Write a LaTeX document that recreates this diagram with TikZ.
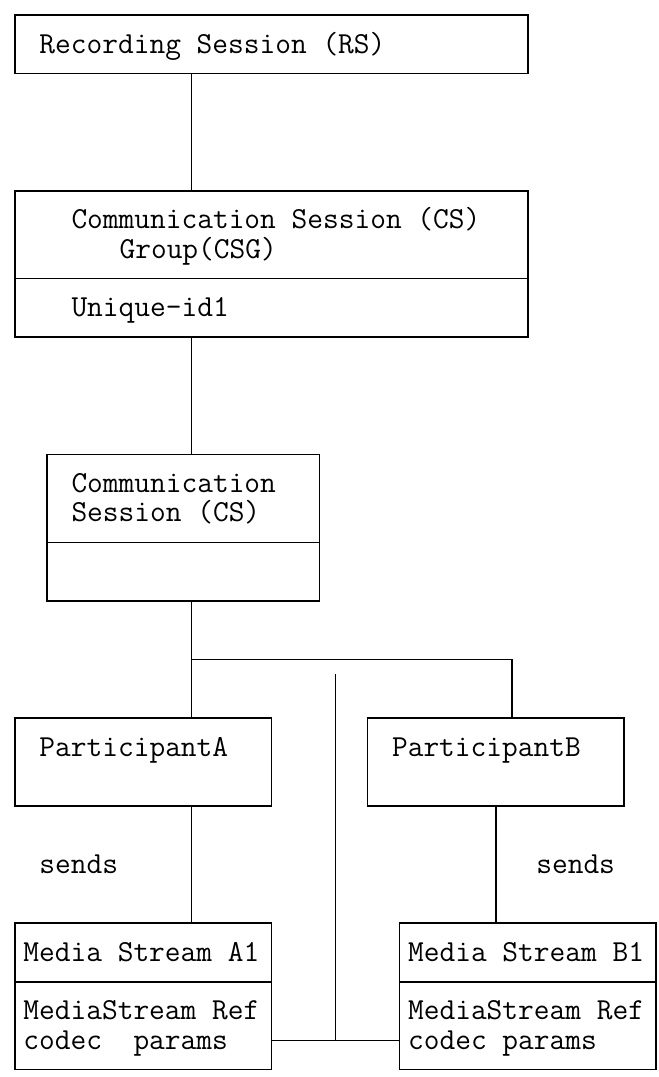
\documentclass[tikz,border=0pt]{standalone}
\usepackage{fontspec}
\usepackage{tikz}
\usetikzlibrary{fit, positioning}
\tikzstyle{asciibox} = [
    rectangle,
    draw=black,
    line width=0.8pt,
    inner sep=0pt,
    outer sep=0pt
]
\tikzstyle{wire} = [
    line width=0.8pt,
    color=black
]
\tikzstyle{txt} = [
    anchor=base west,
    inner sep=0pt,
    font=\ttfamily\fontsize{15.27}{16}\selectfont
]

\begin{document}
\begin{tikzpicture}[x=8.015pt, y=-14.65pt]
        \useasboundingbox (-0.936,-0.512) rectangle (40.17,36.25);

        % Recording session
        \node[asciibox, fit={(0,0) (32,2)}] (rs) {};
        \node[txt] (rsT) at (1.5,1.3) {Recording Session (RS)};

        % Session group
        \node[asciibox, fit={(0,6) (32,9)}] (csg) {};
        \node[asciibox, fit={(0,9) (32,11)}] (csgid) {};
        \node[txt] (csgT) at (3.5,7.3) {Communication Session (CS)};
        \node[txt] (csgG) at (6.5,8.3) {Group(CSG)};
        \node[txt] (csgidT) at (3.5,10.3) {Unique-id1};

        % Communication session
        \node[asciibox, fit={(2,15) (19,18)}] (cs) {};
        \node[asciibox, fit={(2,18) (19,20)}] (csext) {};
        \node[txt] (csT) at (3.5,16.3) {Communication};
        \node[txt] (csS) at (3.5,17.3) {Session (CS)};

        % Participants
        \node[asciibox, fit={(0,24) (16,27)}] (pA) {};
        \node[asciibox, fit={(22,24) (38,27)}] (pB) {};
        \node[txt] (pAT) at (1.5,25.3) {ParticipantA};
        \node[txt] (pBT) at (23.5,25.3) {ParticipantB};
        \node[txt] (sendsA) at (1.5,29.3) {sends};
        \node[txt] (sendsB) at (32.5,29.3) {sends};

        % Media streams
        \node[asciibox, fit={(0,31) (16,33)}] (msA) {};
        \node[asciibox, fit={(0,33) (16,36)}] (msAref) {};
        \node[asciibox, fit={(24,31) (40,33)}] (msB) {};
        \node[asciibox, fit={(24,33) (40,36)}] (msBref) {};
        \node[txt] (msAT) at (0.5,32.3) {Media Stream A1};
        \node[txt] (msArefT) at (0.5,34.3) {MediaStream Ref};
        \node[txt] (msAcod) at (0.5,35.3) {codec\ \ params};
        \node[txt] (msBT) at (24.5,32.3) {Media Stream B1};
        \node[txt] (msBrefT) at (24.5,34.3) {MediaStream Ref};
        \node[txt] (msBcod) at (24.5,35.3) {codec params};

        % Connections
        \coordinate (trunk) at (11,0);
        \coordinate (forkB) at (31,0);
        \coordinate (dropB) at (30,0);
        \coordinate (fork) at (11,22);
        \coordinate (midtop) at (20,22.5);
        \coordinate (junction) at (20,35);
        \draw[wire] (rs.south -| trunk) -- (csg.north -| trunk);
        \draw[wire] (csgid.south -| trunk) -- (cs.north -| trunk);
        \draw[wire] (csext.south -| trunk) -- (pA.north -| trunk);
        \draw[wire] (fork) -| (pB.north -| forkB);
        \draw[wire] (pA.south -| trunk) -- (msA.north -| trunk);
        \draw[wire] (pB.south -| dropB) -- (msB.north -| dropB);
        \draw[wire] (midtop) -- (junction);
        \draw[wire] (msAref.east |- junction) -- (msBref.west |- junction);
    \end{tikzpicture}
\end{document}
